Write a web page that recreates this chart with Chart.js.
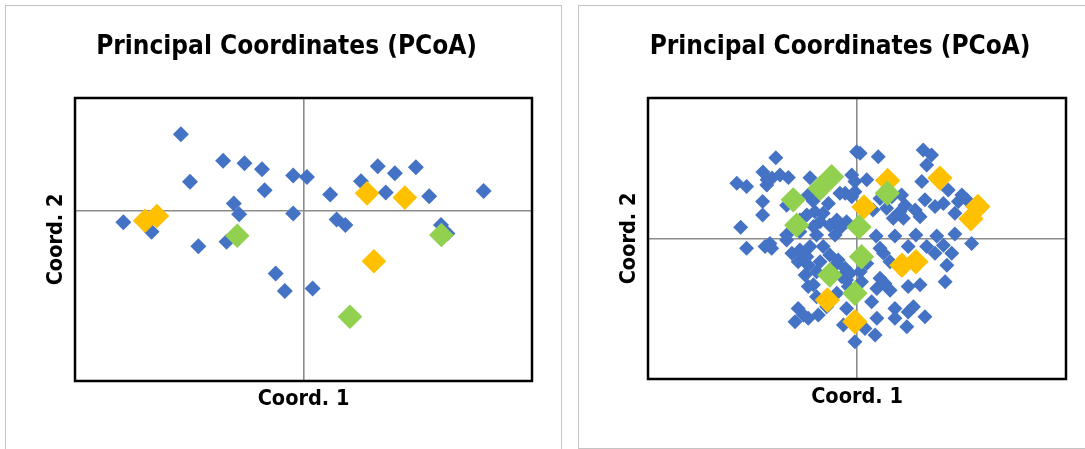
<!DOCTYPE html>
<html>
<head>
<meta charset="utf-8">
<title>PCoA</title>
<script src="https://cdn.jsdelivr.net/npm/chart.js@4.4.1/dist/chart.umd.min.js"></script>
<style>
  html, body { margin:0; padding:0; background:#fff; width:1085px; height:449px; overflow:hidden; }
  .panel { position:absolute; border:1px solid #c4c4c4; box-sizing:border-box; }
  #p1 { left:5px; top:5px; width:557px; height:470px; }
  #p2 { left:578px; top:5px; width:540px; height:444px; }
  canvas { position:absolute; top:5px; }
  #c1 { left:5px; }
  #c2 { left:578px; }
</style>
</head>
<body>
<div class="panel" id="p1"></div>
<div class="panel" id="p2"></div>
<canvas id="c1" width="557" height="444"></canvas>
<canvas id="c2" width="516" height="444"></canvas>

<script>
/* ===== Data: [coord1, coord2] ===== */
const leftBlue = [
  [-0.322,0.272],[-0.298,0.104],[-0.211,0.178],[-0.155,0.169],[-0.109,0.148],[-0.102,0.074],
  [-0.027,0.126],[0.009,0.121],[-0.183,0.027],[-0.169,-0.011],[-0.027,-0.008],[-0.473,-0.039],
  [-0.399,-0.073],[-0.276,-0.124],[-0.202,-0.108],[0.070,0.059],[0.151,0.106],[0.195,0.159],
  [0.240,0.134],[0.295,0.155],[0.216,0.066],[0.330,0.053],[0.473,0.071],[0.087,-0.029],
  [0.110,-0.049],[0.361,-0.049],[0.378,-0.079],[-0.073,-0.220],[-0.049,-0.282],[0.024,-0.273]
];
const leftOrange = [[-0.416,-0.034],[-0.385,-0.017],[0.167,0.063],[0.266,0.048],[0.185,-0.177]];
const leftGreen  = [[-0.174,-0.087],[0.362,-0.084],[0.122,-0.373]];

const rightBlue = [
  [-0.233,0.230],[-0.345,0.157],[-0.317,0.148],[-0.270,0.189],[-0.258,0.167],[-0.244,0.172],
  [-0.221,0.181],[-0.197,0.174],[-0.259,0.152],[-0.135,0.173],[-0.271,0.105],[-0.271,0.067],
  [-0.334,0.032],[-0.082,0.100],[-0.140,0.124],[-0.202,0.095],[-0.015,0.181],[-0.006,0.162],
  [-0.034,0.129],[-0.015,0.119],[-0.001,0.247],[0.009,0.243],[0.061,0.233],[0.190,0.252],
  [0.214,0.238],[0.200,0.209],[0.028,0.167],[0.186,0.162],[0.262,0.138],[0.195,0.110],
  [0.224,0.091],[0.248,0.100],[0.301,0.124],[0.315,0.110],[0.291,0.105],[0.281,0.072],
  [0.128,0.124],[0.138,0.095],[0.167,0.081],[0.181,0.062],[0.123,0.076],[0.133,0.058],
  [0.085,0.086],[0.100,0.119],[0.055,0.007],[0.109,0.007],[0.169,0.010],[0.229,0.007],
  [0.281,0.013],[-0.006,0.133],[-0.144,0.067],[-0.121,0.076],[-0.106,0.048],[-0.078,0.038],
  [-0.049,0.029],[-0.164,0.019],[-0.116,0.010],[-0.063,0.010],[-0.030,0.048],[-0.202,0.010],
  [-0.317,-0.028],[-0.264,-0.023],[-0.245,-0.028],[-0.202,-0.004],[-0.187,-0.042],[-0.164,-0.033],
  [-0.169,-0.066],[-0.140,-0.076],[-0.149,-0.104],[-0.125,-0.132],[-0.116,-0.095],[-0.106,-0.066],
  [-0.078,-0.047],[-0.054,-0.061],[-0.034,-0.085],[-0.097,-0.023],[-0.135,-0.023],[-0.116,-0.166],
  [-0.087,-0.194],[-0.169,-0.199],[-0.154,-0.218],[-0.178,-0.237],[-0.140,-0.227],[-0.111,-0.218],
  [-0.030,-0.199],[-0.039,-0.246],[-0.006,-0.294],[-0.030,-0.118],[0.329,-0.014],[0.076,-0.042],
  [0.147,-0.023],[0.200,-0.023],[0.224,-0.042],[0.272,-0.042],[0.248,-0.019],[0.095,-0.066],
  [0.258,-0.076],[0.253,-0.123],[0.066,-0.113],[0.080,-0.128],[0.057,-0.142],[0.095,-0.147],
  [0.009,-0.095],[0.147,-0.137],[0.181,-0.132],[0.042,-0.180],[0.109,-0.199],[0.109,-0.227],
  [0.147,-0.209],[0.162,-0.194],[0.195,-0.223],[0.143,-0.251],[0.057,-0.227],[0.023,-0.256],
  [0.052,-0.275],[-0.164,0.053],[-0.125,0.034],[-0.144,-0.052],[-0.058,-0.071],[-0.140,-0.137],
  [-0.044,-0.109],[-0.020,-0.099],[0.028,-0.071],[-0.025,-0.137],[0.013,-0.123],[-0.058,-0.156],
  [-0.097,0.072],[-0.058,0.053],[-0.049,0.129],[0.066,0.114],[0.104,0.058],[0.066,-0.028],
  [-0.250,-0.014],[-0.126,0.107],[0.046,0.081]
];
const rightOrange = [[0.020,0.090],[0.088,0.165],[0.238,0.172],[0.347,0.091],[0.327,0.056],
  [0.129,-0.076],[0.169,-0.066],[-0.085,-0.175],[-0.006,-0.237]];
const rightGreen  = [[-0.183,0.110],[-0.106,0.143],[-0.073,0.176],[-0.173,0.038],[0.087,0.129],
  [0.006,0.033],[-0.078,-0.104],[-0.006,-0.156],[0.013,-0.052]];

const TITLE  = 'Principal Coordinates (PCoA)';
const XLABEL = 'Coord. 1';
const YLABEL = 'Coord. 2';

/* ===== Style ===== */
const FONT  = '"DejaVu Sans Condensed", "Liberation Sans Narrow", sans-serif';
const BLUE = '#4472C4', ORANGE = '#FFC000', GREEN = '#92D050';
Chart.defaults.font.family = FONT;
Chart.defaults.color = '#000';

const toXY = (pts) => pts.map(([x, y]) => ({ x, y }));

// black box round the plot area
const frame = {
  id: 'frame',
  afterDraw(chart){
    const { ctx, chartArea: a } = chart;
    ctx.save();
    ctx.strokeStyle = '#000';
    ctx.lineWidth = 2.5;
    ctx.strokeRect(a.left, a.top, a.right - a.left, a.bottom - a.top);
    ctx.restore();
  }
};

// only the zero line is drawn, as a crosshair
const zeroGrid = {
  color: (c) => (c.tick && Math.abs(c.tick.value) < 1e-9) ? '#8c8c8c' : 'rgba(0,0,0,0)',
  lineWidth: 1.6,
  drawTicks: false
};

function axis(min, max, label, pad){
  return {
    min, max,
    ticks: { display: false, stepSize: 0.2 },
    grid: zeroGrid,
    border: { display: false },
    title: { display: true, text: label, font: { size: 21.5, weight: 'bold' }, padding: pad }
  };
}

function ds(pts, color, r, order){
  return { data: toXY(pts), pointStyle: 'rectRot', pointRadius: r, pointHoverRadius: r,
           backgroundColor: color, borderWidth: 0, order };
}

function makeChart(id, datasets, xr, yr, pad){
  return new Chart(document.getElementById(id), {
    type: 'scatter',
    data: { datasets },
    options: {
      responsive: false,
      animation: false,
      events: [],
      layout: { padding: pad },
      plugins: {
        legend: { display: false },
        tooltip: { enabled: false },
        title: { display: true, text: TITLE, font: { size: 26, weight: 'bold' }, padding: { top: 26.4, bottom: 35.4 } }
      },
      scales: {
        x: axis(xr[0], xr[1], XLABEL, { top: 6, bottom: 2 }),
        y: axis(yr[0], yr[1], YLABEL, { top: 2, bottom: 6 })
      }
    },
    plugins: [frame]
  });
}

makeChart('c1', [
  ds(leftBlue, BLUE, 8, 3),
  ds(leftOrange, ORANGE, 12.3, 2),
  ds(leftGreen, GREEN, 12.3, 1)
], [-0.6, 0.6], [-0.6, 0.4], { left: 36.2, right: 30, top: 0, bottom: 34.2 });

makeChart('c2', [
  ds(rightBlue, BLUE, 7.5, 3),
  ds(rightOrange, ORANGE, 12.7, 2),
  ds(rightGreen, GREEN, 12.7, 1)
], [-0.6, 0.6], [-0.4, 0.4], { left: 36.2, right: 28, top: 0, bottom: 36.2 });
</script>
</body>
</html>
